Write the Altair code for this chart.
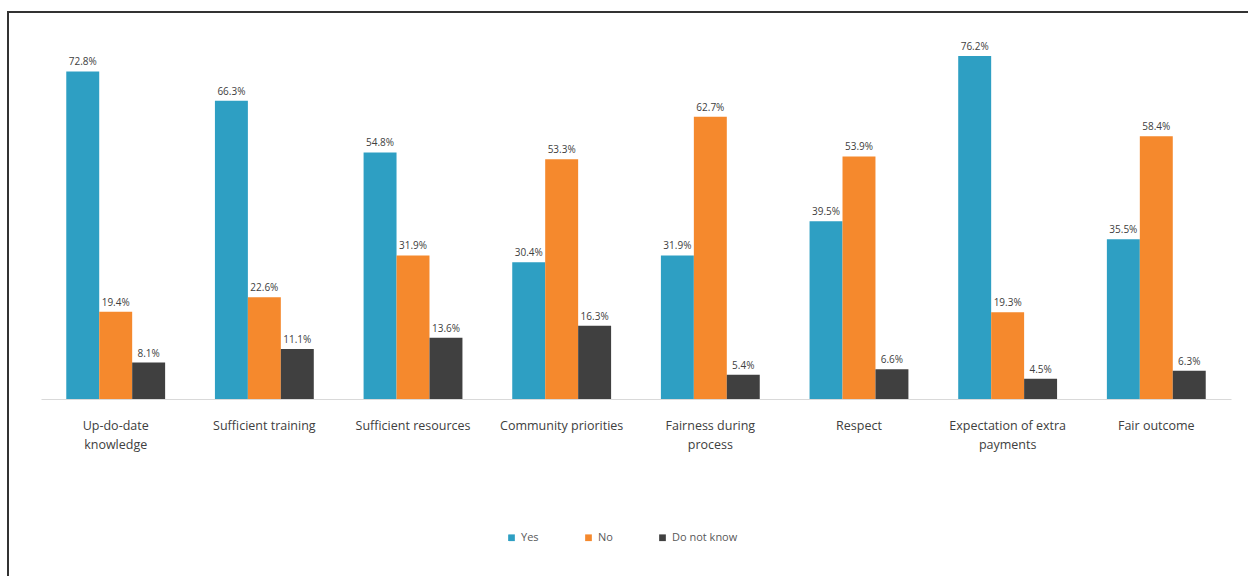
import altair as alt
import pandas as pd

categories = ["Up-do-date knowledge", "Sufficient training", "Sufficient resources",
              "Community priorities", "Fairness during process", "Respect",
              "Expectation of extra payments", "Fair outcome"]
series = ["Yes", "No", "Do not know"]
yes_vals = [72.8, 66.3, 54.8, 30.4, 31.9, 39.5, 76.2, 35.5]
no_vals = [19.4, 22.6, 31.9, 53.3, 62.7, 53.9, 19.3, 58.4]
dk_vals = [8.1, 11.1, 13.6, 16.3, 5.4, 6.6, 4.5, 6.3]
colors = ["#2E9FC3", "#F5892D", "#404040"]

rows = []
for i, c in enumerate(categories):
    for s, vals in zip(series, [yes_vals, no_vals, dk_vals]):
        rows.append({"category": c, "series": s, "value": vals[i],
                     "label": f"{vals[i]:.1f}%"})
df = pd.DataFrame(rows)

label_expr = ("datum.label == 'Up-do-date knowledge' ? ['Up-do-date', 'knowledge'] : "
              "datum.label == 'Fairness during process' ? ['Fairness during', 'process'] : "
              "datum.label == 'Expectation of extra payments' ? ['Expectation of extra', 'payments'] : "
              "datum.label")

x = alt.X("category:N", sort=categories, title=None,
          scale=alt.Scale(paddingInner=0.335, paddingOuter=0.17),
          axis=alt.Axis(labelAngle=0, labelExpr=label_expr, ticks=False,
                        domainColor="#D9D9D9", domainWidth=1,
                        labelFont="Open Sans", labelFontSize=12.5,
                        labelColor="#404040", labelPadding=20,
                        labelLineHeight=19, labelLimit=200))
xo = alt.XOffset("series:N", sort=series)
y = alt.Y("value:Q", scale=alt.Scale(domain=[0, 80]), axis=None)

bars = alt.Chart(df).mark_bar().encode(
    x=x, xOffset=xo, y=y,
    color=alt.Color("series:N", sort=series,
                    scale=alt.Scale(domain=series, range=colors),
                    legend=alt.Legend(title=None, orient="none", direction="horizontal",
                                      legendX=465, legendY=493,
                                      symbolType="square", symbolSize=45,
                                      labelFont="Open Sans", labelFontSize=11,
                                      labelColor="#595959", columnPadding=44,
                                      symbolStrokeWidth=0)),
)

text = alt.Chart(df).mark_text(dy=-9, fontSize=10, font="Open Sans",
                               color="#404040").encode(
    x=x, xOffset=xo, y=y, text="label:N")

frame_top = alt.Chart(df).mark_rule(color="#333333", strokeWidth=2).encode(
    x=alt.value(-33), x2=alt.value(1300), y=alt.value(-27))
frame_left = alt.Chart(df).mark_rule(color="#333333", strokeWidth=2).encode(
    x=alt.value(-33), y=alt.value(-28), y2=alt.value(600))

chart = alt.layer(bars, text, frame_top, frame_left).properties(
    width=1190, height=360,
    autosize=alt.AutoSizeParams(type="none"),
    padding={"left": 41, "top": 39, "right": 17, "bottom": 177},
).configure(background="white").configure_view(stroke=None, strokeWidth=0)

chart.save("out.html", embed_options={"renderer": "svg", "actions": False})
